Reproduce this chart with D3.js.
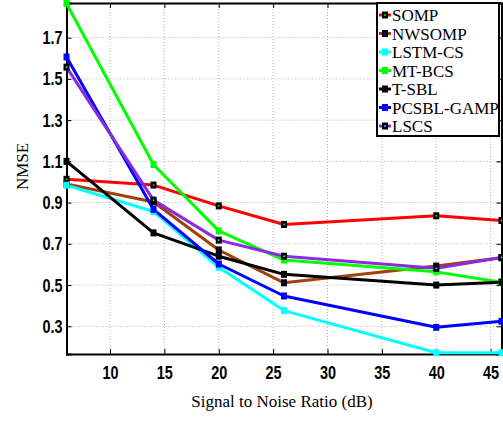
<!DOCTYPE html>
<html>
<head>
<meta charset="utf-8">
<script src="https://cdn.jsdelivr.net/npm/d3@7"></script>
<style>
html,body{margin:0;padding:0;background:#fff;}
svg{display:block;}
</style>
</head>
<body>
<svg id="chart" width="503" height="421"></svg>
<script>
// ---- data ----
const snr = [6, 14, 20, 26, 40, 46];
const seriesNames = ["SOMP", "NWSOMP", "LSTM-CS", "MT-BCS", "T-SBL", "PCSBL-GAMP", "LSCS"];
const somp     = [1.013, 0.985, 0.884, 0.794, 0.836, 0.813];
const nwsomp   = [0.990, 0.903, 0.670, 0.511, 0.592, 0.632];
const lstmcs   = [0.984, 0.857, 0.586, 0.376, 0.172, 0.172];
const mtbcs    = [1.866, 1.085, 0.763, 0.621, 0.564, 0.514];
const tsbl     = [1.100, 0.753, 0.640, 0.552, 0.500, 0.514];
const pcsbl    = [1.606, 0.867, 0.602, 0.447, 0.295, 0.324];
const lscs     = [1.557, 0.912, 0.718, 0.640, 0.581, 0.634];
const xTicks = [10, 15, 20, 25, 30, 35, 40, 45];
const yTicks = [0.3, 0.5, 0.7, 0.9, 1.1, 1.3, 1.5, 1.7];
const xLabel = "Signal to Noise Ratio (dB)";
const yLabel = "NMSE";

// ---- styles ----
const lineColors = ["#ff0000", "#a0400a", "#00ffff", "#00ff00", "#000000", "#0000ff", "#8a2be2"];
const markFill   = ["#000000", "#000000", "#00ffff", "#00ff00", "#000000", "#0000ff", "#000000"];
const markDot    = ["#00ff00", "#0000ff", null, null, null, null, "#00ffff"];
const allValues = [somp, nwsomp, lstmcs, mtbcs, tsbl, pcsbl, lscs];

const svg = d3.select("#chart");
const L = 66.5, R = 501.5, T = 3, B = 354;
const x = d3.scaleLinear().domain([6, 46]).range([L, R]);
const y = d3.scaleLinear().domain([0.1656, 1.868]).range([B, T]);

// grid
const g = svg.append("g");
g.selectAll(".vg").data(xTicks).enter().append("line")
  .attr("x1", d => x(d)).attr("x2", d => x(d)).attr("y1", T).attr("y2", B)
  .attr("stroke", "#b4b4b4").attr("stroke-width", 1).attr("stroke-dasharray", "1,2");
g.selectAll(".hg").data(yTicks).enter().append("line")
  .attr("y1", d => y(d)).attr("y2", d => y(d)).attr("x1", L).attr("x2", R)
  .attr("stroke", "#b4b4b4").attr("stroke-width", 1).attr("stroke-dasharray", "1,2");

// axes
const tickFont = "'Liberation Sans', Arial, sans-serif";
const xAxis = svg.append("g").attr("transform", `translate(0,${B})`)
  .call(d3.axisBottom(x).tickValues(xTicks).tickFormat(d3.format("d")).tickSize(-5).tickPadding(12));
const xAxisTop = svg.append("g").attr("transform", `translate(0,${T})`)
  .call(d3.axisTop(x).tickValues(xTicks).tickFormat("").tickSize(-5));
const yAxis = svg.append("g").attr("transform", `translate(${L},0)`)
  .call(d3.axisLeft(y).tickValues(yTicks).tickFormat(d3.format(".1f")).tickSize(-5).tickPadding(4));
const yAxisR = svg.append("g").attr("transform", `translate(${R},0)`)
  .call(d3.axisRight(y).tickValues(yTicks).tickFormat("").tickSize(-5));
[xAxis, xAxisTop, yAxis, yAxisR].forEach(a => {
  a.select(".domain").attr("stroke", "#000").attr("stroke-width", 2);
  a.selectAll(".tick line").attr("stroke", "#000").attr("stroke-width", 1);
  a.selectAll("text").attr("fill", "#000").attr("font-family", tickFont)
    .attr("font-weight", "bold").attr("font-size", 19);
});
xAxis.selectAll("text").attr("dy", "0.71em");
// condensed look: squeeze glyphs horizontally
[xAxis, yAxis].forEach(a => {
  a.selectAll(".tick text").each(function() {
    const w = this.getComputedTextLength();
    if (w > 0) d3.select(this).attr("textLength", w * 0.76).attr("lengthAdjust", "spacingAndGlyphs");
  });
});

// lines
const line = d3.line().x((d, i) => x(snr[i])).y(d => y(d));
allValues.forEach((vals, k) => {
  svg.append("path").datum(vals).attr("d", line)
    .attr("fill", "none").attr("stroke", lineColors[k]).attr("stroke-width", 3)
    .attr("stroke-linejoin", "round");
});
allValues.forEach((vals, k) => {
  const mg = svg.append("g");
  mg.selectAll("rect").data(vals).enter().append("rect")
    .attr("x", (d, i) => x(snr[i]) - 3).attr("y", d => y(d) - 3.5)
    .attr("width", 6).attr("height", 7).attr("fill", markFill[k]);
  if (markDot[k]) {
    mg.selectAll("circle").data(vals).enter().append("circle")
      .attr("cx", (d, i) => x(snr[i])).attr("cy", d => y(d)).attr("r", 0.9)
      .attr("fill", markDot[k]);
  }
});

// axis labels
svg.append("text").attr("x", 282).attr("y", 407).attr("text-anchor", "middle")
  .attr("font-family", "'Liberation Serif', serif").attr("font-size", 17)
  .attr("fill", "#000").text(xLabel);
svg.append("text").attr("transform", "translate(28,166.5) rotate(-90)")
  .attr("text-anchor", "middle")
  .attr("font-family", "'Liberation Serif', serif").attr("font-size", 17)
  .attr("fill", "#000").text(yLabel);

// legend
const lg = svg.append("g");
lg.append("rect").attr("x", 377).attr("y", 3).attr("width", 122).attr("height", 133)
  .attr("fill", "#fff").attr("stroke", "#000").attr("stroke-width", 2);
seriesNames.forEach((name, k) => {
  const cy = 15 + k * 18.5;
  lg.append("line").attr("x1", 379).attr("x2", 391).attr("y1", cy).attr("y2", cy)
    .attr("stroke", lineColors[k]).attr("stroke-width", 3);
  lg.append("rect").attr("x", 382).attr("y", cy - 3.5).attr("width", 6).attr("height", 7)
    .attr("fill", markFill[k]);
  if (markDot[k]) lg.append("circle").attr("cx", 385).attr("cy", cy).attr("r", 0.9).attr("fill", markDot[k]);
  lg.append("text").attr("x", 392).attr("y", cy + 6).attr("font-family", "'Liberation Serif', serif")
    .attr("font-size", 17).attr("fill", "#000").text(name);
});
</script>
</body>
</html>
